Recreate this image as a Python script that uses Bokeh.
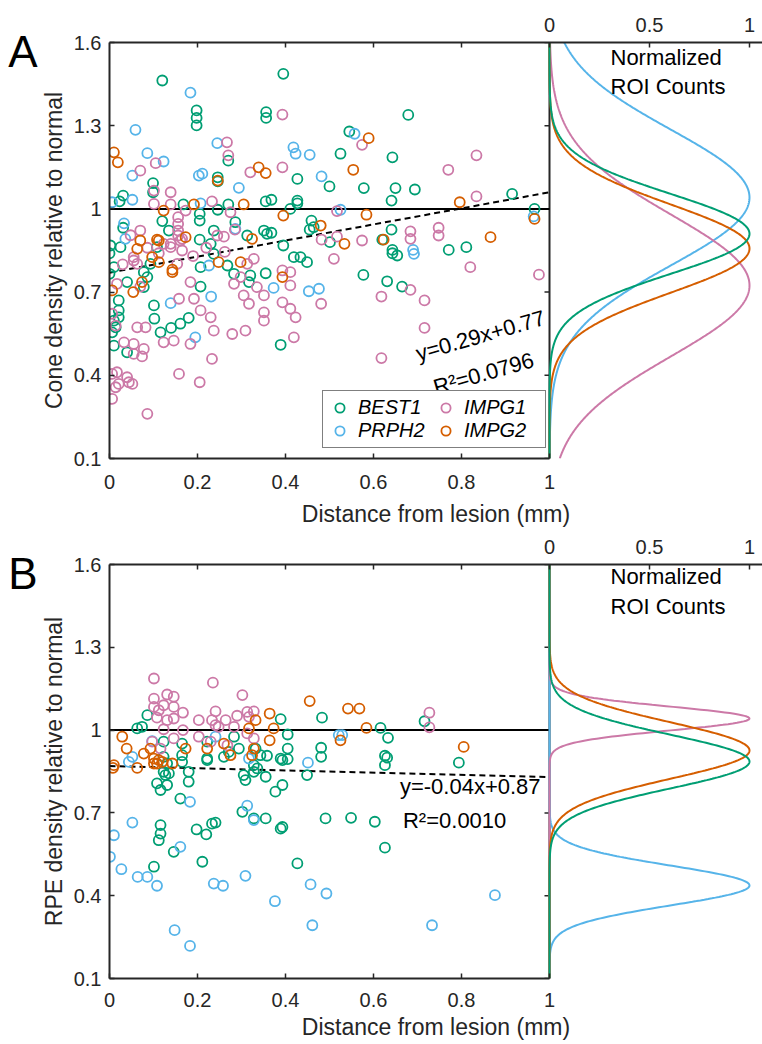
import numpy as np
from bokeh.plotting import figure
from bokeh.models import (Range1d, LinearAxis, FixedTicker, CustomJSTickFormatter,
                          NumeralTickFormatter, Span, Label, Legend, LegendItem)
from bokeh.layouts import column
from bokeh.embed import file_html
from bokeh.resources import INLINE

# ---------------- data ----------------
GENES = ["BEST1", "PRPH2", "IMPG1", "IMPG2"]
COLORS = ["#009E73", "#56B4E9", "#CC79A7", "#D55E00"]

Y_TICKS = [0.1, 0.4, 0.7, 1.0, 1.3, 1.6]
X_TICKS = [0, 0.2, 0.4, 0.6, 0.8, 1.0]
SIDE_TICKS = [0, 0.5, 1]
REF_LEVEL = 1.0

A_BEST1 = [(0.120,1.463),(0.395,1.487),(0.198,1.355),(0.198,1.328),(0.198,1.301),(0.356,1.349),(0.356,1.328),
           (0.270,1.174),(0.246,1.114),(0.246,1.099),(0.099,1.093),(0.099,1.060),(0.031,1.048),(0.023,1.027),
           (0.427,1.108),(0.355,1.027),(0.368,1.033),(0.427,1.030),(0.427,1.020),(0.168,1.016),(0.205,0.982),
           (0.205,0.958),(0.270,1.016),(0.246,0.997),(0.120,0.956),(0.031,0.932),(0.135,0.922),(0.002,0.868),
           (0.205,0.889),(0.351,0.922),(0.358,0.910),(0.368,0.914),(0.313,0.904),(0.237,0.922),(0.286,0.952),
           (0.108,0.862),(0.025,0.862),(0.679,1.339),(0.545,1.279),(0.525,1.199),(0.643,1.186),(0.500,1.081),
           (0.578,1.075),(0.650,1.075),(0.694,1.070),(0.641,1.030),(0.411,1.000),(0.459,0.958),(0.455,0.925),
           (0.464,0.934),(0.641,0.925),(0.915,1.054),(0.966,1.000),(0.620,0.889),(0.501,0.880),(0.811,0.862),
           (0.771,0.852),(0.643,0.852),(0.000,0.840),(0.010,0.790),(0.000,0.766),(0.040,0.736),(0.093,0.802),
           (0.078,0.772),(0.086,0.754),(0.078,0.718),(0.207,0.790),(0.230,0.874),(0.237,0.838),(0.268,0.796),
           (0.283,0.766),(0.317,0.736),(0.320,0.760),(0.355,0.768),(0.395,0.868),(0.021,0.670),(0.021,0.634),
           (0.010,0.597),(0.014,0.573),(0.006,0.555),(0.010,0.507),(0.021,0.609),(0.101,0.652),(0.102,0.604),
           (0.116,0.555),(0.140,0.571),(0.161,0.586),(0.180,0.607),(0.207,0.720),(0.040,0.483),(0.389,0.510),
           (0.419,0.826),(0.434,0.826),(0.449,0.808),(0.577,0.762),(0.631,0.739),(0.665,0.720),(0.643,0.840),
           (0.654,0.832)]
A_PRPH2 = [(0.184,1.419),(0.059,1.285),(0.086,1.201),(0.123,1.171),(0.052,1.120),(0.211,1.127),(0.203,1.120),
           (0.245,1.237),(0.294,1.076),(0.006,1.024),(0.052,1.033),(0.207,1.020),(0.418,1.222),(0.423,1.199),
           (0.033,0.948),(0.036,0.892),(0.286,0.928),(0.557,1.271),(0.455,1.195),(0.482,1.117),(0.525,0.997),
           (0.964,0.973),(0.690,0.852),(0.226,0.796),(0.139,0.660),(0.231,0.684),(0.195,0.537),(0.373,0.715),
           (0.453,0.703),(0.476,0.712),(0.692,0.838)]
A_IMPG1 = [(0.393,1.340),(0.267,1.240),(0.270,1.193),(0.105,1.165),(0.070,1.138),(0.393,1.150),(0.320,1.132),
           (0.101,1.066),(0.101,1.018),(0.139,1.060),(0.139,1.016),(0.233,1.027),(0.275,0.988),(0.156,0.970),
           (0.156,0.946),(0.156,0.922),(0.156,0.904),(0.161,0.886),(0.070,0.922),(0.173,0.994),(0.245,0.904),
           (0.139,0.874),(0.574,1.231),(0.834,1.193),(0.770,1.141),(0.834,1.045),(0.517,0.992),(0.684,0.919),
           (0.748,0.932),(0.748,0.904),(0.482,0.889),(0.517,0.900),(0.574,0.886),(0.006,0.622),(0.014,0.579),
           (0.017,0.730),(0.055,0.814),(0.063,0.802),(0.055,0.826),(0.123,0.874),(0.139,0.862),(0.154,0.802),
           (0.165,0.892),(0.165,0.850),(0.184,0.736),(0.192,0.676),(0.158,0.676),(0.207,0.634),(0.230,0.609),
           (0.063,0.573),(0.082,0.573),(0.033,0.519),(0.055,0.513),(0.078,0.495),(0.055,0.477),(0.074,0.468),
           (0.040,0.393),(0.044,0.375),(0.021,0.369),(0.052,0.369),(0.017,0.411),(0.006,0.405),(0.014,0.357),
           (0.006,0.315),(0.086,0.261),(0.158,0.405),(0.205,0.375),(0.233,0.459),(0.123,0.519),(0.146,0.525),
           (0.184,0.513),(0.237,0.561),(0.279,0.549),(0.309,0.561),(0.305,0.688),(0.283,0.730),(0.298,0.754),
           (0.313,0.802),(0.328,0.820),(0.335,0.718),(0.351,0.688),(0.351,0.627),(0.351,0.597),(0.317,0.658),
           (0.393,0.663),(0.411,0.724),(0.411,0.640),(0.423,0.609),(0.419,0.537),(0.393,0.778),(0.411,0.772),
           (0.481,0.658),(0.510,0.820),(0.684,0.892),(0.684,0.708),(0.618,0.684),(0.716,0.670),(0.716,0.571),
           (0.618,0.462),(0.820,0.790),(0.976,0.763),(0.086,0.860),(0.112,0.840),(0.190,0.830),(0.220,0.860),
           (0.262,0.845),(0.048,0.905),(0.030,0.800),(0.070,0.720),(0.260,0.900),(0.285,0.925)]
A_IMPG2 = [(0.010,1.204),(0.019,1.168),(0.339,1.150),(0.355,1.129),(0.246,1.102),(0.305,1.016),(0.192,1.016),
           (0.123,0.994),(0.395,0.976),(0.070,0.886),(0.108,0.889),(0.324,0.892),(0.173,0.898),(0.589,1.255),
           (0.554,1.141),(0.584,0.979),(0.480,0.940),(0.623,0.889),(0.534,0.874),(0.796,1.024),(0.866,0.898),
           (0.966,0.964),(0.006,0.706),(0.054,0.700),(0.074,0.736),(0.063,0.856),(0.097,0.826),(0.112,0.808),
           (0.143,0.772),(0.143,0.781),(0.112,0.886),(0.248,0.808),(0.298,0.808),(0.393,0.754)]

B_BEST1 = [(0.086,1.054),(0.063,1.006),(0.074,1.012),(0.389,1.040),(0.405,0.984),(0.123,0.958),(0.165,0.951),
           (0.222,0.958),(0.283,0.976),(0.294,0.933),(0.222,0.897),(0.260,0.903),(0.271,0.921),(0.332,0.933),
           (0.343,0.909),(0.358,0.907),(0.389,0.897),(0.405,0.895),(0.165,0.909),(0.165,0.885),(0.123,0.903),
           (0.131,0.879),(0.328,0.873),(0.483,1.045),(0.616,1.008),(0.633,0.972),(0.716,1.032),(0.405,0.933),
           (0.481,0.936),(0.481,0.903),(0.626,0.907),(0.631,0.900),(0.794,0.882),(0.108,0.807),(0.116,0.783),
           (0.131,0.801),(0.127,0.837),(0.135,0.843),(0.123,0.849),(0.180,0.813),(0.180,0.849),(0.161,0.752),
           (0.222,0.891),(0.116,0.656),(0.116,0.625),(0.112,0.601),(0.146,0.559),(0.101,0.505),(0.198,0.640),
           (0.220,0.622),(0.233,0.661),(0.241,0.665),(0.211,0.523),(0.302,0.704),(0.328,0.680),(0.355,0.680),
           (0.389,0.643),(0.393,0.649),(0.305,0.837),(0.309,0.819),(0.328,0.849),(0.355,0.831),(0.377,0.777),
           (0.393,0.801),(0.336,0.861),(0.393,0.891),(0.427,0.517),(0.449,0.837),(0.626,0.873),(0.491,0.680),
           (0.549,0.682),(0.603,0.668),(0.626,0.574)]
B_PRPH2 = [(0.097,0.960),(0.052,0.903),(0.241,0.976),(0.317,0.897),(0.521,0.982),(0.529,0.982),(0.451,0.882),
           (0.052,0.665),(0.010,0.619),(0.001,0.541),(0.027,0.496),(0.064,0.468),(0.086,0.468),(0.108,0.436),
           (0.183,0.740),(0.161,0.577),(0.237,0.444),(0.258,0.436),(0.309,0.472),(0.313,0.726),(0.328,0.674),
           (0.376,0.380),(0.148,0.275),(0.183,0.218),(0.044,0.885),(0.457,0.441),(0.493,0.408),(0.461,0.293),
           (0.733,0.293),(0.876,0.402)]
B_IMPG1 = [(0.101,1.187),(0.235,1.172),(0.302,1.127),(0.131,1.129),(0.146,1.121),(0.101,1.114),(0.101,1.084),
           (0.112,1.072),(0.123,1.090),(0.146,1.084),(0.167,1.063),(0.108,1.045),(0.131,1.036),(0.146,1.042),
           (0.123,1.003),(0.167,1.000),(0.146,0.970),(0.203,1.036),(0.203,0.976),(0.241,1.068),(0.233,1.036),
           (0.241,1.018),(0.248,1.012),(0.264,1.036),(0.290,1.052),(0.313,1.066),(0.328,1.068),(0.317,1.048),
           (0.283,1.012),(0.313,0.988),(0.328,0.970),(0.230,0.958),(0.268,0.945),(0.097,0.958),(0.116,0.933),
           (0.727,1.063),(0.727,1.010)]
B_IMPG2 = [(0.029,0.976),(0.039,0.933),(0.078,0.915),(0.093,0.933),(0.101,0.897),(0.112,0.891),(0.108,0.879),
           (0.143,0.879),(0.173,0.933),(0.222,0.933),(0.260,0.951),(0.275,0.909),(0.317,1.006),(0.328,0.933),
           (0.324,0.909),(0.332,1.036),(0.364,1.060),(0.364,0.963),(0.373,1.006),(0.010,0.873),(0.455,1.105),
           (0.542,1.078),(0.568,1.078),(0.584,1.008),(0.525,0.963),(0.805,0.939),(0.008,0.863),(0.063,0.863),
           (0.101,0.879),(0.120,0.885)]

# fitted normal curves (peak position and width), order = GENES
A_FIT_MEAN = [0.910, 1.041, 0.724, 0.857]
A_FIT_SD = [0.144, 0.245, 0.256, 0.159]
B_FIT_MEAN = [0.886, 0.437, 1.042, 0.926]
B_FIT_SD = [0.097, 0.072, 0.043, 0.102]

A_SLOPE, A_INTERCEPT = 0.29, 0.77
B_SLOPE, B_INTERCEPT = -0.04, 0.87
A_EQ, A_R2 = "y=0.29x+0.77", "R\u00b2=0.0796"
B_EQ, B_R2 = "y=-0.04x+0.87", "R\u00b2=0.0010"

# ---------------- style / layout ----------------
FONT = "Liberation Sans"
INK = "#262626"
BORDER_L = 109
FRAME_W = 653      # px of plotting frame
SCATTER_W = 440    # px for distance 0..1
SIDE_W = 200       # px for normalized count 0..1
TICK_FS = "20px"
LABEL_FS = "23px"
ANN_FS = "22px"
LETTER_Y = 1.566   # vertical position of panel letter (in y-axis units)


def make_panel(letter, ylabel, groups, fit_mean, fit_sd, slope, intercept,
               eq_text, r2_text, eq_spec, r2_spec, frame_h, b_top, b_bottom,
               show_legend, standoffs, ann_lines):
    side_start = -SCATTER_W / SIDE_W
    p = figure(frame_width=FRAME_W, frame_height=frame_h,
               x_range=Range1d(0, FRAME_W / SCATTER_W), y_range=Range1d(Y_TICKS[0], Y_TICKS[-1]),
               output_backend="svg", toolbar_location=None, x_axis_location=None,
               min_border_left=BORDER_L, min_border_right=0, min_border_top=b_top,
               min_border_bottom=b_bottom)
    p.extra_x_ranges = {"side": Range1d(side_start, side_start + FRAME_W / SIDE_W)}
    p.outline_line_color = None
    p.grid.visible = False
    p.background_fill_color = "white"

    # left axis
    ya = p.yaxis[0]
    ya.ticker = FixedTicker(ticks=Y_TICKS)
    ya.formatter = NumeralTickFormatter(format="0.[0]")
    ya.axis_label = ylabel
    ya.major_tick_in = 5
    ya.major_tick_out = 0
    ya.minor_tick_line_color = None
    ya.axis_line_color = INK
    ya.axis_line_width = 2
    ya.major_tick_line_color = INK
    ya.major_tick_line_width = 1.5
    ya.major_label_text_font = FONT
    ya.major_label_text_font_size = TICK_FS
    ya.major_label_text_color = INK
    ya.major_label_standoff = 8
    ya.axis_label_text_font = FONT
    ya.axis_label_text_font_size = LABEL_FS
    ya.axis_label_text_font_style = "normal"
    ya.axis_label_text_color = INK
    ya.axis_label_standoff = 4

    # panel letter, drawn as the single tick label of an outer, line-less left axis
    la = LinearAxis(ticker=FixedTicker(ticks=[LETTER_Y]),
                    formatter=CustomJSTickFormatter(code="return '%s';" % letter))
    la.axis_line_color = None
    la.major_tick_line_color = None
    la.minor_tick_line_color = None
    la.major_tick_in = 0
    la.major_tick_out = 0
    la.major_label_standoff = 0
    la.major_label_text_font = FONT
    la.major_label_text_font_size = "44px"
    la.major_label_text_color = "black"
    la.major_label_orientation = "horizontal"
    p.add_layout(la, "left")

    # bottom axis (distance)
    xa = LinearAxis(bounds=(X_TICKS[0], X_TICKS[-1]), ticker=FixedTicker(ticks=X_TICKS),
                    formatter=NumeralTickFormatter(format="0.[0]"),
                    axis_label="Distance from lesion (mm)")
    xa.major_tick_in = 5
    xa.major_tick_out = 0
    xa.minor_tick_line_color = None
    xa.axis_line_color = INK
    xa.axis_line_width = 2
    xa.major_tick_line_color = INK
    xa.major_tick_line_width = 1.5
    xa.major_label_text_font = FONT
    xa.major_label_text_font_size = TICK_FS
    xa.major_label_text_color = INK
    xa.major_label_standoff = standoffs[0]
    xa.axis_label_text_font = FONT
    xa.axis_label_text_font_size = LABEL_FS
    xa.axis_label_text_font_style = "normal"
    xa.axis_label_text_color = INK
    xa.axis_label_standoff = standoffs[1]
    p.add_layout(xa, "below")

    # top axis: scatter box ticks (unlabelled) + side panel ticks (labelled)
    top_ticks = [(t - 1) * SCATTER_W / SIDE_W for t in X_TICKS[1:-1]] + SIDE_TICKS
    ta = LinearAxis(x_range_name="side", bounds=(side_start, side_start + FRAME_W / SIDE_W),
                    ticker=FixedTicker(ticks=top_ticks),
                    formatter=CustomJSTickFormatter(
                        code="return tick < -1e-6 ? '' : String(Math.round(tick * 10) / 10);"))
    ta.major_tick_in = 5
    ta.major_tick_out = 0
    ta.minor_tick_line_color = None
    ta.axis_line_color = INK
    ta.axis_line_width = 2
    ta.major_tick_line_color = INK
    ta.major_tick_line_width = 1.5
    ta.major_label_text_font = FONT
    ta.major_label_text_font_size = TICK_FS
    ta.major_label_text_color = INK
    ta.major_label_standoff = 11
    p.add_layout(ta, "above")

    # right edge of scatter box / left axis of side panel
    p.add_layout(Span(location=X_TICKS[-1], dimension="height", line_color=INK,
                      line_width=2, level="underlay"))
    p.ray(x=[X_TICKS[-1]] * len(Y_TICKS), y=Y_TICKS, length=5, length_units="screen",
          angle=np.pi, line_color=INK, line_width=1.5)

    # reference level and regression line
    p.segment(x0=[X_TICKS[0]], y0=[REF_LEVEL], x1=[X_TICKS[-1]], y1=[REF_LEVEL],
              line_color="black", line_width=2)
    fx = np.array([X_TICKS[0], X_TICKS[-1]])
    p.line(fx, slope * fx + intercept, line_color="black", line_width=2, line_dash="6 4")

    # scatter
    items = []
    for g, col, pts in zip(GENES, COLORS, groups):
        xs = [a for a, b in pts]
        ys = [b for a, b in pts]
        r = p.scatter(xs, ys, marker="circle", size=10, fill_color=None,
                      line_color=col, line_width=1.8)
        items.append(LegendItem(label=g, renderers=[r]))

    # side panel fitted curves
    yy = np.linspace(Y_TICKS[0], Y_TICKS[-1], 600)
    for idx in [1, 2, 3, 0]:
        dens = np.exp(-0.5 * ((yy - fit_mean[idx]) / fit_sd[idx]) ** 2)
        p.line(dens, yy, x_range_name="side", line_color=COLORS[idx], line_width=2)

    # annotations
    p.add_layout(Label(x=eq_spec[0], y=eq_spec[1], angle=eq_spec[2], text=eq_text,
                       text_font=FONT, text_font_size=ANN_FS, text_color="black",
                       text_align=eq_spec[3], text_baseline="middle"))
    p.add_layout(Label(x=r2_spec[0], y=r2_spec[1], angle=r2_spec[2], text=r2_text,
                       text_font=FONT, text_font_size=ANN_FS, text_color="black",
                       text_align=r2_spec[3], text_baseline="middle"))
    for txt, yv in zip(["Normalized", "ROI Counts"], ann_lines):
        p.add_layout(Label(x=0.305, y=yv, x_range_name="side", text=txt,
                           text_font=FONT, text_font_size=ANN_FS, text_color="black",
                           text_align="left", text_baseline="middle"))

    if show_legend:
        lg = Legend(items=items, location=(213, 10), ncols=2, orientation="vertical",
                    border_line_color="black", border_line_width=1.5,
                    background_fill_color="white", background_fill_alpha=1.0,
                    label_text_font=FONT, label_text_font_style="italic",
                    label_text_font_size="20px", label_text_color="black",
                    glyph_width=23, glyph_height=23, label_height=23, label_width=76,
                    label_standoff=7, spacing=0, padding=5, margin=0)
        p.add_layout(lg, "center")
    return p


pa = make_panel("A", "Cone density relative to normal", [A_BEST1, A_PRPH2, A_IMPG1, A_IMPG2],
                A_FIT_MEAN, A_FIT_SD, A_SLOPE, A_INTERCEPT, A_EQ, A_R2,
                (0.843, 0.543, 0.28, "center"), (0.85, 0.406, 0.28, "center"),
                416, 42, 74, True, (16, 9), [1.546, 1.441])
pb = make_panel("B", "RPE density relative to normal", [B_BEST1, B_PRPH2, B_IMPG1, B_IMPG2],
                B_FIT_MEAN, B_FIT_SD, B_SLOPE, B_INTERCEPT, B_EQ, B_R2,
                (0.66, 0.796, 0, "left"), (0.667, 0.672, 0, "left"),
                414, 32, 66, False, (14, 4), [1.557, 1.448])

layout = column(pa, pb, spacing=0)
open("out.html", "w").write(file_html(layout, INLINE))
